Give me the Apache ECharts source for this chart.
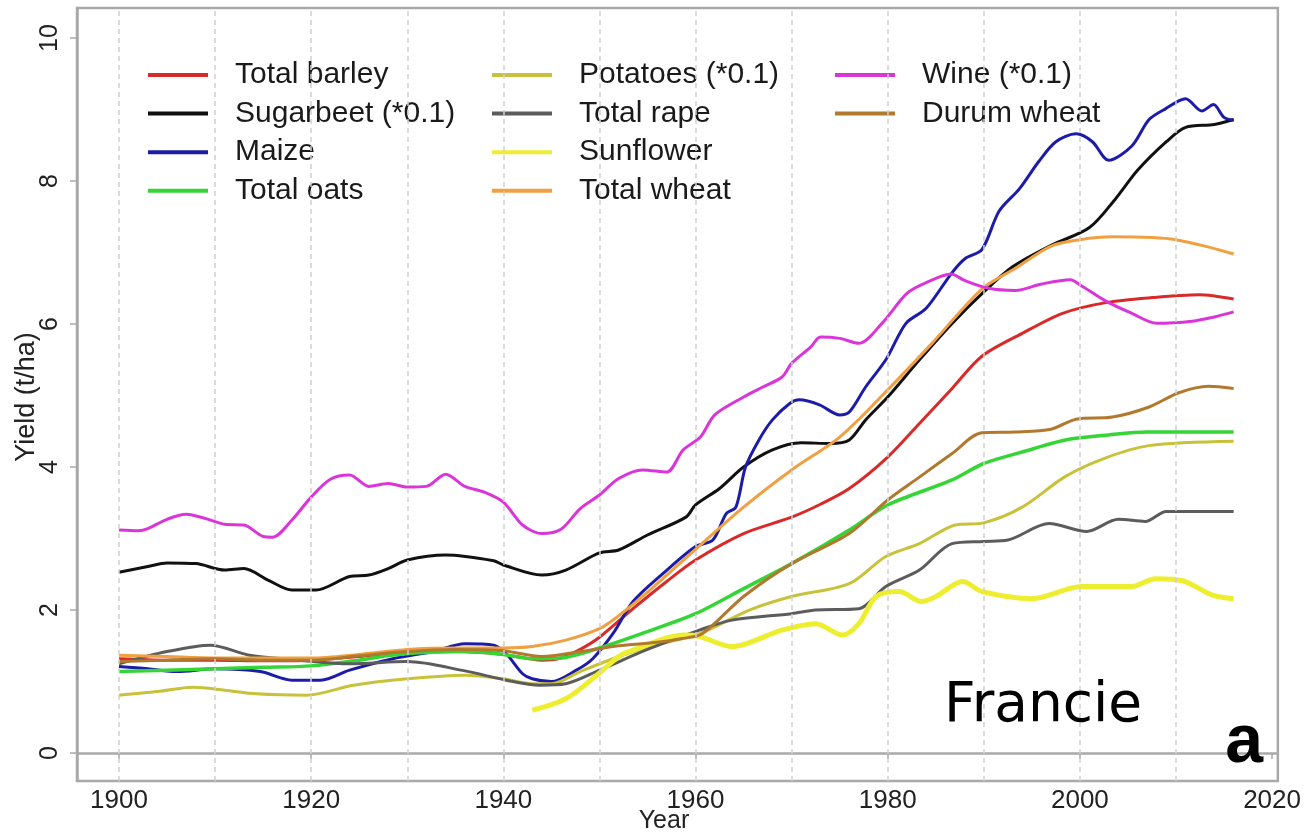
<!DOCTYPE html>
<html>
<head>
<meta charset="utf-8">
<title>Crop yields – Francie</title>
<script src="https://cdn.jsdelivr.net/npm/echarts@6/dist/echarts.min.js"></script>
<style>
  html, body { margin: 0; padding: 0; background: #ffffff; }
  #chart { width: 1304px; height: 832px; }
</style>
</head>
<body>
<div id="chart"></div>
<script>
// Yield series, [year, t/ha]; sugarbeet, potatoes and wine are scaled by 0.1
const totalBarley = [[1900,1.32],[1905,1.30],[1910,1.30],[1915,1.29],[1920,1.30],[1925,1.35],[1930,1.41],[1935,1.42],[1940,1.38],[1944,1.30],[1946,1.33],[1948,1.45],[1950,1.62],[1953.5,2.02],[1957,2.40],[1960,2.70],[1965,3.07],[1970,3.30],[1973,3.48],[1976,3.70],[1980,4.14],[1983.3,4.61],[1986.7,5.10],[1989.8,5.55],[1994,5.87],[1998.2,6.15],[2002.7,6.30],[2007.5,6.37],[2012.4,6.41],[2016,6.35]];
const sugarbeet = [[1900,2.53],[1903,2.61],[1905,2.66],[1908,2.65],[1911,2.56],[1913,2.58],[1915.5,2.42],[1918,2.28],[1920.5,2.28],[1924,2.47],[1926,2.49],[1928,2.58],[1930,2.70],[1934,2.77],[1939,2.69],[1940,2.63],[1944,2.49],[1946.5,2.56],[1950,2.80],[1952,2.84],[1955,3.05],[1959,3.30],[1960,3.47],[1962.5,3.70],[1965,4.00],[1968,4.24],[1971,4.34],[1974,4.33],[1976,4.38],[1977.7,4.66],[1980,4.98],[1983.3,5.50],[1986.7,6.01],[1990,6.45],[1993,6.80],[1997,7.10],[2001,7.35],[2003.7,7.75],[2006,8.15],[2009,8.55],[2011,8.75],[2014,8.79],[2016,8.86]];
const maize = [[1900,1.21],[1903,1.18],[1906,1.14],[1910,1.18],[1914.7,1.14],[1918,1.02],[1921,1.02],[1924,1.16],[1928.5,1.32],[1932.7,1.42],[1936,1.53],[1939,1.51],[1940.3,1.39],[1942,1.11],[1943,1.04],[1945,1.00],[1947.6,1.16],[1949.3,1.32],[1951.4,1.67],[1953.5,2.12],[1956.6,2.51],[1960,2.89],[1961.8,2.98],[1963.2,3.35],[1964.2,3.44],[1965.2,4.00],[1966.6,4.38],[1968,4.66],[1969.8,4.89],[1970.8,4.94],[1972.9,4.87],[1975,4.73],[1976,4.77],[1977.7,5.12],[1979.8,5.50],[1981.9,6.01],[1984,6.22],[1986.7,6.72],[1988.1,6.92],[1989.8,7.04],[1991.6,7.58],[1993.7,7.89],[1995.7,8.27],[1997.5,8.55],[1999.6,8.66],[2001.3,8.55],[2003,8.29],[2005.4,8.49],[2007.2,8.86],[2008.9,9.01],[2011,9.15],[2012.7,8.98],[2013.9,9.07],[2015,8.89],[2016,8.85]];
const totalOats = [[1900,1.14],[1905,1.16],[1910,1.18],[1915,1.20],[1920,1.22],[1925,1.30],[1929,1.38],[1936,1.42],[1940,1.38],[1943,1.32],[1946,1.33],[1950,1.47],[1955,1.70],[1960,1.95],[1965,2.30],[1970,2.65],[1976,3.12],[1980,3.47],[1986.7,3.82],[1990,4.05],[1995,4.25],[1998.5,4.38],[2003,4.45],[2007,4.49],[2016,4.49]];
const potatoes = [[1900,0.81],[1904,0.86],[1907.7,0.92],[1911,0.88],[1914.3,0.83],[1919.5,0.81],[1924.4,0.95],[1930,1.04],[1936,1.09],[1940,1.04],[1943,0.97],[1945,0.97],[1948,1.14],[1951.4,1.32],[1955,1.48],[1960.4,1.67],[1965.6,2.00],[1970,2.19],[1976,2.37],[1979.8,2.75],[1983.3,2.93],[1987,3.19],[1990,3.22],[1994,3.44],[1998.5,3.87],[2002.7,4.13],[2007.2,4.30],[2016,4.36]];
const totalRape = [[1900,1.25],[1905,1.42],[1909.5,1.51],[1913.6,1.37],[1918.8,1.30],[1924,1.25],[1930,1.28],[1936,1.15],[1940.3,1.02],[1943.8,0.95],[1946.5,0.97],[1950,1.16],[1955,1.45],[1960.4,1.72],[1963.8,1.86],[1970,1.95],[1972.5,2.00],[1977,2.02],[1979.8,2.33],[1983.3,2.56],[1986.7,2.93],[1990,2.96],[1992.5,2.98],[1996.8,3.21],[2000.7,3.10],[2004,3.27],[2006.8,3.24],[2009,3.38],[2016,3.38]];
const sunflower = [[1943,0.60],[1946.5,0.76],[1950,1.12],[1952,1.35],[1953.5,1.44],[1958.7,1.65],[1960.4,1.63],[1963.8,1.49],[1969,1.72],[1972.5,1.81],[1975.3,1.65],[1977,1.81],[1978.8,2.19],[1981.2,2.26],[1983.5,2.12],[1985,2.19],[1987.8,2.40],[1989.8,2.26],[1995,2.16],[2000.2,2.33],[2005.4,2.33],[2007.9,2.44],[2010.7,2.41],[2013.8,2.21],[2016,2.16]];
const totalWheat = [[1900,1.37],[1905,1.35],[1910,1.33],[1915,1.33],[1920,1.33],[1925,1.38],[1930,1.45],[1935,1.47],[1940,1.47],[1943,1.49],[1946.5,1.58],[1950,1.74],[1952,1.92],[1955,2.25],[1960,2.85],[1965,3.44],[1970,3.96],[1975,4.42],[1980,5.08],[1984.6,5.73],[1989.8,6.49],[1993.3,6.78],[1997,7.09],[2000,7.18],[2003.4,7.22],[2007.5,7.21],[2010,7.18],[2013,7.09],[2016,6.98]];
const wine = [[1900,3.12],[1902,3.11],[1903,3.14],[1905,3.27],[1907,3.34],[1909,3.28],[1911,3.20],[1913,3.19],[1915,3.03],[1916,3.02],[1918,3.26],[1920,3.58],[1922,3.83],[1924,3.89],[1926,3.73],[1928,3.77],[1930,3.72],[1932,3.73],[1934,3.90],[1936,3.73],[1938,3.65],[1940,3.51],[1942,3.19],[1944,3.07],[1946,3.13],[1948,3.42],[1950,3.61],[1952,3.84],[1954.5,3.96],[1957,3.93],[1958.7,4.24],[1960.5,4.42],[1962,4.73],[1965,4.98],[1967,5.12],[1969,5.26],[1970,5.45],[1972,5.68],[1973,5.82],[1975,5.80],[1977,5.73],[1979.4,6.01],[1982,6.43],[1984,6.58],[1986.6,6.70],[1988,6.61],[1990.5,6.50],[1993.3,6.47],[1996,6.56],[1999,6.62],[2000,6.55],[2002.7,6.32],[2005.4,6.15],[2008,6.01],[2011.7,6.04],[2014,6.10],[2016,6.17]];
const durumWheat = [[1900,1.28],[1905,1.30],[1910,1.32],[1915,1.30],[1920,1.30],[1925,1.36],[1930,1.42],[1935,1.45],[1940,1.43],[1944,1.35],[1948,1.42],[1952,1.50],[1956,1.55],[1958.5,1.60],[1960.7,1.67],[1965,2.19],[1970,2.65],[1976,3.07],[1980,3.54],[1983.3,3.86],[1986.7,4.19],[1989.8,4.48],[1993.3,4.49],[1997,4.53],[1999.6,4.67],[2003.4,4.70],[2007.2,4.84],[2010.3,5.04],[2013.4,5.13],[2016,5.10]];

// Axis ticks and reference lines
const xTickYears = [1900, 1920, 1940, 1960, 1980, 2000, 2020];
const yTickValues = [0, 2, 4, 6, 8, 10];
const decadeLines = [1900, 1910, 1920, 1930, 1940, 1950, 1960, 1970, 1980, 1990, 2000, 2010];

const seriesDefs = [
  { name: 'Total barley',      data: totalBarley, color: '#d92a2a', width: 3 },
  { name: 'Sugarbeet (*0.1)',  data: sugarbeet,   color: '#111111', width: 3 },
  { name: 'Maize',             data: maize,       color: '#1c1ca8', width: 3 },
  { name: 'Total oats',        data: totalOats,   color: '#35d535', width: 3.5 },
  { name: 'Potatoes (*0.1)',   data: potatoes,    color: '#c8c23a', width: 3 },
  { name: 'Total rape',        data: totalRape,   color: '#5c5c5c', width: 3 },
  { name: 'Sunflower',         data: sunflower,   color: '#eeee30', width: 5 },
  { name: 'Total wheat',       data: totalWheat,  color: '#f0a040', width: 3 },
  { name: 'Wine (*0.1)',       data: wine,        color: '#d935d9', width: 3 },
  { name: 'Durum wheat',       data: durumWheat,  color: '#b0792e', width: 3 }
];

const FONT = '"Liberation Sans", Arial, sans-serif';
const legendBase = {
  orient: 'vertical',
  top: 60,
  padding: 0,
  icon: 'rect',
  itemWidth: 60,
  itemHeight: 4,
  itemGap: 8.6,
  selectedMode: false,
  textStyle: { fontFamily: FONT, fontSize: 30, lineHeight: 30, color: '#1a1a1a', padding: [0, 0, 0, 22] }
};

const chart = echarts.init(document.getElementById('chart'), null, { renderer: 'canvas' });

const series = seriesDefs.map(function (d) {
  return {
    name: d.name,
    type: 'line',
    data: d.data,
    smooth: 0.3,
    showSymbol: false,
    symbol: 'none',
    color: d.color,
    lineStyle: { color: d.color, width: d.width },
    z: 3,
    animation: false
  };
});

// Dashed decade lines behind the data
series.unshift({
  name: 'decades',
  type: 'line',
  data: [],
  z: 1,
  silent: true,
  animation: false,
  markLine: {
    silent: true,
    symbol: ['none', 'none'],
    label: { show: false },
    lineStyle: { color: '#cfcfcf', type: [5, 4], width: 1.5 },
    data: decadeLines.map(function (y) { return { xAxis: y }; }),
    animation: false
  }
});

chart.setOption({
  backgroundColor: '#ffffff',
  animation: false,
  grid: {
    left: 77, right: 25, top: 8, bottom: 51,
    show: true, borderColor: '#a9a9a9', borderWidth: 2.5, backgroundColor: 'transparent'
  },
  legend: [
    Object.assign({}, legendBase, { left: 148, data: ['Total barley', 'Sugarbeet (*0.1)', 'Maize', 'Total oats'] }),
    Object.assign({}, legendBase, { left: 492, data: ['Potatoes (*0.1)', 'Total rape', 'Sunflower', 'Total wheat'] }),
    Object.assign({}, legendBase, { left: 835, data: ['Wine (*0.1)', 'Durum wheat'] })
  ],
  xAxis: {
    type: 'value',
    min: 1895.63,
    max: 2020.6,
    axisLine: { show: true, lineStyle: { color: '#a9a9a9', width: 2.5 } },
    axisTick: { show: true, length: 6, customValues: xTickYears, lineStyle: { color: '#a9a9a9', width: 1.5 } },
    axisLabel: { customValues: xTickYears, margin: 7, fontFamily: FONT, fontSize: 26, color: '#222222', formatter: function (v) { return String(v); } },
    splitLine: { show: false }
  },
  yAxis: {
    type: 'value',
    min: -0.39,
    max: 10.42,
    axisLine: { show: true, lineStyle: { color: '#a9a9a9', width: 2.5 } },
    axisTick: { show: true, length: 7, customValues: yTickValues, lineStyle: { color: '#a9a9a9', width: 1.5 } },
    axisLabel: { customValues: yTickValues, rotate: 90, margin: 14, fontFamily: FONT, fontSize: 25, color: '#222222' },
    splitLine: { show: false }
  },
  graphic: [
    { type: 'text', x: 27, y: 397, rotation: Math.PI / 2, z: 10,
      style: { text: 'Yield (t/ha)', fontFamily: FONT, fontSize: 27, fill: '#222222', align: 'center', verticalAlign: 'middle' } },
    { type: 'text', x: 664, y: 821, z: 10,
      style: { text: 'Year', fontFamily: FONT, fontSize: 25, fill: '#222222', align: 'center', verticalAlign: 'middle' } },
    { type: 'text', x: 944, y: 707, z: 10,
      style: { text: 'Francie', fontFamily: '"DejaVu Sans", sans-serif', fontSize: 55, fill: '#000000', align: 'left', verticalAlign: 'middle' } },
    { type: 'text', x: 1263, y: 743, z: 10,
      style: { text: 'a', fontFamily: FONT, fontWeight: 'bold', fontSize: 68, fill: '#000000', align: 'right', verticalAlign: 'middle' } }
  ],
  series: series
});
</script>
</body>
</html>
